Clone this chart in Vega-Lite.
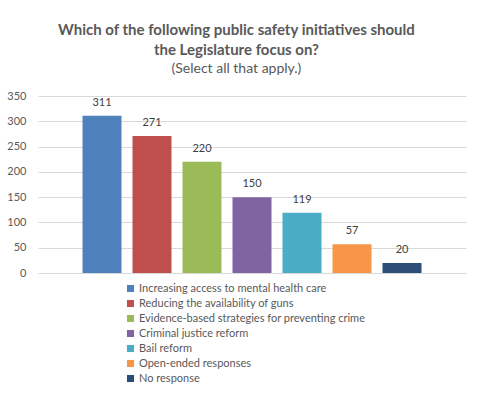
{
  "$schema": "https://vega.github.io/schema/vega-lite/v6.json",
  "autosize": {"type": "none"},
  "width": 428,
  "height": 177,
  "padding": {"left": 38, "top": 96, "right": 15, "bottom": 125},
  "background": "white",
  "title": {
    "text": ["Which of the following public safety initiatives should", "the Legislature focus on?"],
    "subtitle": "(Select all that apply.)",
    "anchor": "middle",
    "frame": "bounds",
    "font": "Lato",
    "fontSize": 15,
    "fontWeight": "bold",
    "color": "#595959",
    "lineHeight": 20,
    "subtitleFont": "Lato",
    "subtitleFontSize": 14,
    "subtitleColor": "#595959",
    "subtitlePadding": 4,
    "offset": 14
  },
  "data": {
    "values": [
      {"initiative": "Increasing access to mental health care", "count": 311},
      {"initiative": "Reducing the availability of guns", "count": 271},
      {"initiative": "Evidence-based strategies for preventing crime", "count": 220},
      {"initiative": "Criminal justice reform", "count": 150},
      {"initiative": "Bail reform", "count": 119},
      {"initiative": "Open-ended responses", "count": 57},
      {"initiative": "No response", "count": 20}
    ]
  },
  "encoding": {
    "x": {
      "field": "initiative",
      "type": "nominal",
      "sort": null,
      "axis": null,
      "scale": {"paddingInner": 0.22, "paddingOuter": 0.89}
    },
    "y": {
      "field": "count",
      "type": "quantitative",
      "scale": {"domain": [0, 350]},
      "axis": {
        "title": null,
        "values": [0, 50, 100, 150, 200, 250, 300, 350],
        "ticks": false,
        "domain": false,
        "grid": true,
        "gridColor": "#d9d9d9",
        "gridWidth": 1,
        "labelColor": "#595959",
        "labelFont": "Lato",
        "labelFontSize": 11,
        "labelPadding": 12
      }
    }
  },
  "layer": [
    {
      "mark": {"type": "bar"},
      "encoding": {
        "color": {
          "field": "initiative",
          "type": "nominal",
          "sort": null,
          "scale": {
            "domain": ["Increasing access to mental health care", "Reducing the availability of guns", "Evidence-based strategies for preventing crime", "Criminal justice reform", "Bail reform", "Open-ended responses", "No response"],
            "range": ["#4F81BD", "#C0504D", "#9BBB59", "#8064A2", "#4BACC6", "#F79646", "#2C4D75"]
          },
          "legend": {
            "title": null,
            "orient": "none",
            "legendX": 87,
            "legendY": 187,
            "direction": "vertical",
            "symbolType": "square",
            "symbolSize": 50,
            "symbolStrokeWidth": 0,
            "labelFont": "Lato",
            "labelFontSize": 11,
            "labelColor": "#595959",
            "labelLimit": 400,
            "labelOffset": 3,
            "rowPadding": 3
          }
        }
      }
    },
    {
      "mark": {"type": "text", "baseline": "bottom", "dy": -8, "font": "Lato", "fontSize": 11, "color": "#404040"},
      "encoding": {"text": {"field": "count", "type": "quantitative"}}
    }
  ],
  "config": {"view": {"stroke": null}}
}
